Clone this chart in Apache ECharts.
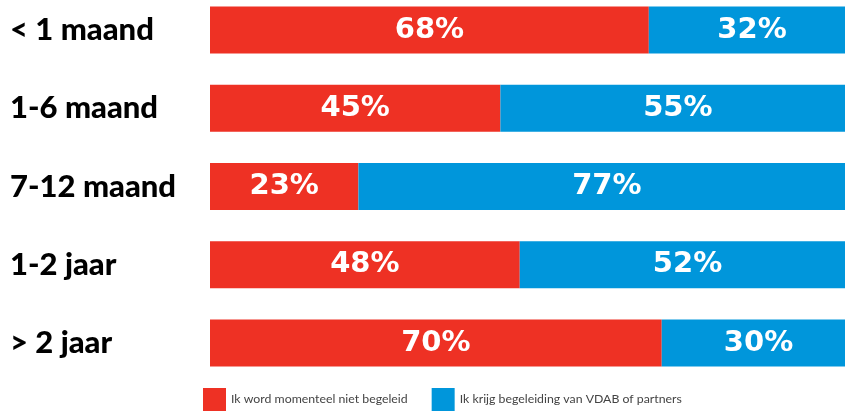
<!DOCTYPE html>
<html>
<head>
<meta charset="utf-8">
<script src="https://cdn.jsdelivr.net/npm/echarts@6/dist/echarts.min.js"></script>
<style>
  html, body { margin: 0; padding: 0; background: #fff; }
  #chart { width: 845px; height: 412px; }
</style>
</head>
<body>
<div id="chart"></div>
<script>
// categorieën (van boven naar onder)
const categories = ['< 1 maand', '1-6 maand', '7-12 maand', '1-2 jaar', '> 2 jaar']
const seriesNames = ['Ik word momenteel niet begeleid', 'Ik krijg begeleiding van VDAB of partners']
const nietBegeleid = [68, 45, 23, 48, 70]
const welBegeleid = [32, 55, 77, 52, 30]

const RED = '#ee3124'
const BLUE = '#0096db'

const chart = echarts.init(document.getElementById('chart'))

const labelStyle = {
  show: true,
  position: 'inside',
  formatter: p => p.value + '%',
  color: '#fff',
  fontFamily: 'DejaVu Sans',
  fontWeight: 'bold',
  fontSize: 29
}

const option = {
  animation: false,
  grid: {
    left: 210,
    right: 0,
    top: 30,
    bottom: 69
  },
  xAxis: {
    type: 'value',
    min: 0,
    // de balken lopen in het origineel iets voorbij de rechterrand
    max: 98.4,
    show: false
  },
  yAxis: {
    type: 'category',
    data: categories,
    inverse: true,
    boundaryGap: false,
    axisLine: { show: false },
    axisTick: { show: false },
    splitLine: { show: false },
    axisLabel: {
      align: 'left',
      margin: 200,
      color: '#000',
      fontFamily: 'Lato',
      fontWeight: 900,
      fontSize: 31
    }
  },
  legend: {
    left: 198,
    top: 383,
    itemWidth: 23,
    itemHeight: 23,
    itemGap: 24,
    icon: 'rect',
    textStyle: {
      color: '#444',
      fontFamily: 'Lato',
      fontSize: 12.3
    },
    data: seriesNames
  },
  series: [
    {
      name: seriesNames[0],
      type: 'bar',
      stack: 'totaal',
      barWidth: 47,
      clip: false,
      itemStyle: { color: RED },
      label: labelStyle,
      data: nietBegeleid
    },
    {
      name: seriesNames[1],
      type: 'bar',
      stack: 'totaal',
      barWidth: 47,
      clip: false,
      itemStyle: { color: BLUE },
      label: labelStyle,
      data: welBegeleid
    }
  ]
}

chart.setOption(option)
</script>
</body>
</html>
